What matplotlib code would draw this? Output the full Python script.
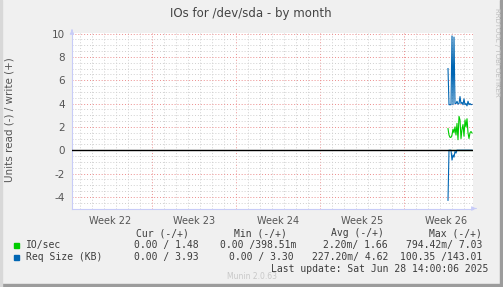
import numpy as np
import matplotlib
matplotlib.use('Agg')
import matplotlib.pyplot as plt
from matplotlib.patches import Rectangle

# dados (2 horas por ponto, a partir de ~31.67 dias depois do inicio da semana 22)
io_write = [1.85, 1.3, 1.1, 1.1, 1.3, 1.8, 1.5, 2.0, 1.3, 2.3, 0.9, 2.9, 2.6,
            1.0, 1.8, 2.2, 1.2, 2.6, 2.0, 2.7, 1.5, 1.0, 1.5, 1.6, 1.48]
io_read = [0.0] * 25
req_write = [7.0, 3.9, 3.9, 3.9, 9.8, 3.9, 9.7, 4.0, 4.0, 4.2, 3.95, 4.0, 4.6,
             4.0, 4.1, 3.9, 4.4, 3.9, 4.0, 3.8, 4.2, 3.9, 4.0, 3.9, 3.93]
req_read = [-4.3, 0, 0, 0, -0.85, -0.4, -0.6, -0.1, -0.25, 0, 0, 0, 0,
            0, 0, 0, 0, 0, 0, 0, 0, 0, 0, 0, 0]

week_labels = ['Week 22', 'Week 23', 'Week 24', 'Week 25', 'Week 26']
rows = ['IO/sec', 'Req Size (KB)']
cur = ['0.00 / 1.48', '0.00 / 3.93']
mins = ['0.00 /398.51m', '0.00 / 3.30']
avgs = ['2.20m/ 1.66', '227.20m/ 4.62']
maxs = ['794.42m/ 7.03', '100.35 /143.01']

green = '#00CC00'
blue = '#0066B3'

W, H = 503, 287
fig = plt.figure(figsize=(W / 100, H / 100), dpi=100)
fig.patch.set_facecolor('#F0F0F0')

def fx(px):
    return px / W

def fy(py):
    return 1 - py / H

# borda estilo munin
fig.patches.append(Rectangle((fx(W - 3), 0), 3 / W, 1, transform=fig.transFigure,
                             color='#9c9c9c', zorder=0))
fig.patches.append(Rectangle((0, 0), 1, 3 / H, transform=fig.transFigure,
                             color='#9c9c9c', zorder=0))
fig.patches.append(Rectangle((0, 0), 2 / W, 1, transform=fig.transFigure,
                             color='#d8d8d8', zorder=0))

ax = fig.add_axes([fx(72), fy(208.5), fx(473) - fx(72), fy(33) - fy(208.5)])
ax.set_facecolor('white')

t0 = (448 - 68) / 12
t = t0 + np.arange(len(io_write)) / 12

ax.set_xlim((72 - 68) / 12, (473 - 68) / 12)
ax.set_ylim(-5, 10.05)

# grade
ax.set_xticks([7, 14, 21, 28])
ax.set_xticks(np.arange(1, 34), minor=True)
ax.set_yticks(np.arange(-4, 11, 2))
ax.set_yticks(np.arange(-5, 10.1, 0.5), minor=True)
ax.grid(True, which='minor', color='#cfcfcf', linestyle=(0, (1, 2)), linewidth=0.7)
ax.grid(True, which='major', color='#ec8c8c', linestyle=(0, (1, 2)), linewidth=0.7)
ax.set_axisbelow(True)

ax.plot(t, io_read, color=green, linewidth=0.8, zorder=4)
ax.plot(t, io_write, color=green, linewidth=0.8, zorder=4)
ax.plot(t, req_read, color=blue, linewidth=0.8, zorder=4)
ax.plot(t, req_write, color=blue, linewidth=0.8, zorder=4)

ax.axhline(0, color='black', linewidth=1.0, zorder=5)

for s in ['top', 'right']:
    ax.spines[s].set_visible(False)
for s in ['left', 'bottom']:
    ax.spines[s].set_color('#c8ccf8')
    ax.spines[s].set_linewidth(0.8)

ax.tick_params(axis='both', which='both', length=0, colors='#555555')
ax.set_yticklabels([str(v) for v in range(-4, 11, 2)], fontsize=7.5, color='#555555')
ax.tick_params(axis='y', pad=5)
ax.set_xticklabels([])
for i, lab in enumerate(week_labels):
    ax.text(3.5 + 7 * i, -0.045, lab, transform=ax.get_xaxis_transform(),
            ha='center', va='top', fontsize=7, color='#555555')

# setas dos eixos
ax.annotate('', xy=(1.015, 0), xytext=(1.0, 0), xycoords='axes fraction',
            arrowprops=dict(arrowstyle='-|>', color='#c8ccf8', lw=0.8, mutation_scale=6),
            annotation_clip=False)
ax.annotate('', xy=(0, 1.035), xytext=(0, 1.0), xycoords='axes fraction',
            arrowprops=dict(arrowstyle='-|>', color='#c8ccf8', lw=0.8, mutation_scale=6),
            annotation_clip=False)

# textos
fig.text(fx(251), fy(13.5), 'IOs for /dev/sda - by month', ha='center', va='center',
         fontsize=8.5, color='#444444')
fig.text(fx(10), fy(120), 'Units read (-) / write (+)', rotation=90, ha='center',
         va='center', fontsize=7.5, color='#555555')
fig.text(fx(497), fy(8), 'RRDTOOL / TOBI OETIKER', rotation=270, ha='center', va='top',
         fontsize=5, color='#bdbdbd')

mono = dict(family='DejaVu Sans Mono', fontsize=7, color='#3c3c3c', va='center')
fig.text(fx(189), fy(233), 'Cur (-/+)', ha='right', **mono)
fig.text(fx(287), fy(233), 'Min (-/+)', ha='right', **mono)
fig.text(fx(384), fy(233), 'Avg (-/+)', ha='right', **mono)
fig.text(fx(482), fy(233), 'Max (-/+)', ha='right', **mono)

for i, (name, col) in enumerate(zip(rows, [green, blue])):
    y = 245 + 12.3 * i
    fig.patches.append(Rectangle((fx(14), fy(y + 2.5)), 5 / W, 5 / H,
                                 transform=fig.transFigure, color=col))
    fig.text(fx(26), fy(y), name, ha='left', **mono)
    fig.text(fx(199), fy(y), cur[i], ha='right', **mono)
    fig.text(fx(296 if i == 0 else 294), fy(y), mins[i], ha='right', **mono)
    fig.text(fx(388), fy(y), avgs[i], ha='right', **mono)
    fig.text(fx(482), fy(y), maxs[i], ha='right', **mono)

fig.text(fx(488), fy(269.5), 'Last update: Sat Jun 28 14:00:06 2025', ha='right', **mono)
fig.text(fx(252), fy(276.5), 'Munin 2.0.63', ha='center', va='center',
         fontsize=5.5, color='#c8c8c8')

fig.savefig('out.png', dpi=100, facecolor=fig.get_facecolor())
